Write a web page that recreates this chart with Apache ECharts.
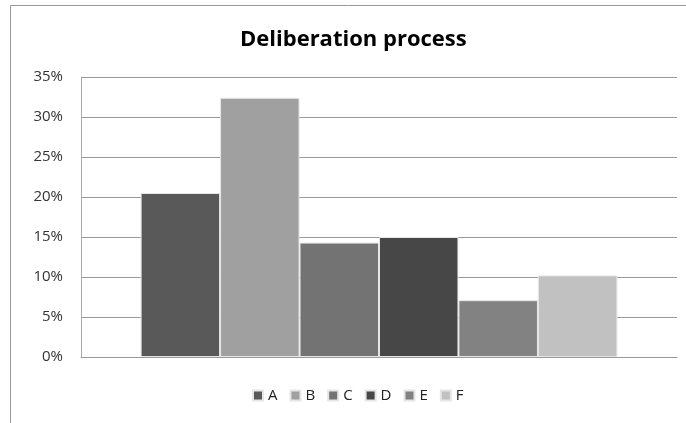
<!DOCTYPE html>
<html>
<head>
<meta charset="utf-8">
<script src="https://cdn.jsdelivr.net/npm/echarts@6/dist/echarts.min.js"></script>
<style>
  html, body { margin: 0; padding: 0; background: #fff; }
  #chart { width: 686px; height: 423px; }
</style>
</head>
<body>
<div id="chart"></div>
<script>
// Share of responses per option (%)
const seriesNames = ['A', 'B', 'C', 'D', 'E', 'F'];
const seriesValues = [20.5, 32.4, 14.3, 15.0, 7.1, 10.2];
const seriesColors = ['#595959', '#a0a0a0', '#737373', '#474747', '#828282', '#c1c1c1'];
const categories = [''];
const yTicks = { min: 0, max: 35, interval: 5 };

const chart = echarts.init(document.getElementById('chart'), null, { renderer: 'canvas' });

const series = seriesNames.map((name, i) => ({
  name: name,
  type: 'bar',
  data: [seriesValues[i]],
  barGap: '0%',
  barCategoryGap: '20%',
  itemStyle: { color: seriesColors[i], borderColor: '#e6e6e6', borderWidth: 1 },
  emphasis: { disabled: true }
}));

chart.setOption({
  animation: false,
  backgroundColor: '#ffffff',
  title: {
    text: 'Deliberation process',
    left: 235,
    top: 24,
    textStyle: { fontFamily: 'Open Sans', fontSize: 22, fontWeight: 'bold', color: '#000' }
  },
  legend: {
    data: seriesNames,
    bottom: 15,
    left: 247,
    itemWidth: 10,
    itemHeight: 10,
    itemGap: 12,
    icon: 'rect',
    textStyle: { fontFamily: 'Open Sans', fontSize: 15, color: '#222' }
  },
  grid: { left: 81, right: 9, top: 77, bottom: 66, containLabel: false },
  xAxis: {
    type: 'category',
    data: categories,
    axisLine: { lineStyle: { color: '#999' } },
    axisTick: { show: false },
    axisLabel: { show: false }
  },
  yAxis: {
    type: 'value',
    min: yTicks.min,
    max: yTicks.max,
    interval: yTicks.interval,
    axisLine: { show: true, lineStyle: { color: '#aaa' } },
    axisTick: { show: false },
    axisLabel: {
      formatter: v => v + '%',
      fontFamily: 'Open Sans',
      fontSize: 15,
      color: '#333',
      margin: 18
    },
    splitLine: { lineStyle: { color: '#999', width: 1 } }
  },
  graphic: [
    {
      type: 'polyline',
      shape: { points: [[10.5, 423], [10.5, 5.5], [686, 5.5]] },
      style: { stroke: '#999', lineWidth: 1, fill: null },
      silent: true
    }
  ],
  series: series
});
</script>
</body>
</html>
